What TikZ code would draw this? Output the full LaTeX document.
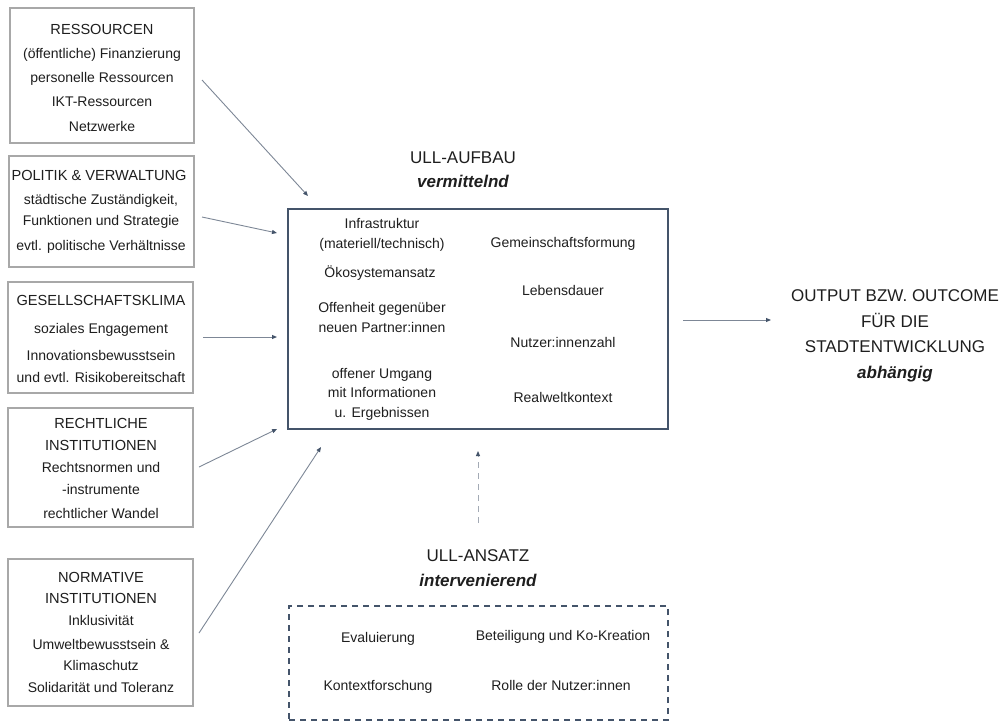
\documentclass[tikz,border=0pt]{standalone}
\usepackage{fontspec}
\setmainfont{Liberation Sans}
\usetikzlibrary{arrows.meta}
\definecolor{ink}{HTML}{1E1E1E}
\definecolor{boxgray}{HTML}{A8A8A8}
\definecolor{slate}{HTML}{44546A}
\definecolor{arrowgray}{HTML}{7D8796}
\definecolor{dashgray}{HTML}{A3AAB5}

\begin{document}
\begin{tikzpicture}[x=1pt,y=-1pt,
  txt/.style={text=ink, font=\fontsize{14}{16}\selectfont, inner sep=0pt, anchor=base, yshift=-5pt},
  boxhead/.style={txt, font=\fontsize{14.6}{16}\selectfont},
  head/.style={text=ink, font=\fontsize{17}{20}\selectfont, inner sep=0pt, anchor=base, yshift=-6pt},
  headit/.style={head, font=\fontsize{17}{20}\selectfont\bfseries\itshape},
  factorbox/.style={draw=boxgray, line width=1.1pt, fill=white, inner sep=0pt},
  mainbox/.style={draw=slate, line width=1.6pt, inner sep=0pt},
  approachbox/.style={draw=slate, line width=1.4pt, dash pattern=on 6pt off 5pt, inner sep=0pt},
  tipshape/.style={-{Triangle[length=5pt,width=4pt,color=slate,fill=slate]}},
  conn/.style={draw=arrowgray, line width=0.9pt, tipshape},
  dashconn/.style={draw=dashgray, line width=0.9pt, dash pattern=on 6pt off 5pt, tipshape}
]
\useasboundingbox (0,0) rectangle (1003,721);

% factor boxes on the left
\node[factorbox, minimum width=184pt, minimum height=135pt] (b1) at (102,75.5) {};
\node[factorbox, minimum width=185pt, minimum height=111pt] (b2) at (101.5,211.5) {};
\node[factorbox, minimum width=185pt, minimum height=111pt] (b3) at (100.5,337.5) {};
\node[factorbox, minimum width=185pt, minimum height=119pt] (b4) at (100.5,467.5) {};
\node[factorbox, minimum width=185pt, minimum height=147pt] (b5) at (100.5,632.5) {};

% RESSOURCEN
\node[boxhead] (r1) at (102,29) {RESSOURCEN};
\node[txt] (r2) at (102,53) {(öffentliche) Finanzierung};
\node[txt] (r3) at (102,77) {personelle Ressourcen};
\node[txt] (r4) at (102,101) {IKT-Ressourcen};
\node[txt] (r5) at (102,126) {Netzwerke};

% POLITIK & VERWALTUNG
\node[boxhead] (p1) at (99,175) {POLITIK \& VERWALTUNG};
\node[txt] (p2) at (101,199) {städtische Zuständigkeit,};
\node[txt] (p3) at (101,220) {Funktionen und Strategie};
\node[txt] (p4) at (101,245) {evtl. politische Verhältnisse};

% GESELLSCHAFTSKLIMA
\node[boxhead] (g1) at (101,300) {GESELLSCHAFTSKLIMA};
\node[txt] (g2) at (101,328) {soziales Engagement};
\node[txt] (g3) at (101,355) {Innovationsbewusstsein};
\node[txt] (g4) at (101,377) {und evtl. Risikobereitschaft};

% RECHTLICHE INSTITUTIONEN
\node[boxhead] (l1) at (101,423) {RECHTLICHE};
\node[boxhead] (l2) at (101,445) {INSTITUTIONEN};
\node[txt] (l3) at (101,467) {Rechtsnormen und};
\node[txt] (l4) at (101,489) {-instrumente};
\node[txt] (l5) at (101,513) {rechtlicher Wandel};

% NORMATIVE INSTITUTIONEN
\node[boxhead] (n1) at (101,577) {NORMATIVE};
\node[boxhead] (n2) at (101,598) {INSTITUTIONEN};
\node[txt] (n3) at (101,620) {Inklusivität};
\node[txt] (n4) at (101,644) {Umweltbewusstsein \&};
\node[txt] (n5) at (101,665) {Klimaschutz};
\node[txt] (n6) at (101,687) {Solidarität und Toleranz};

% ULL-Aufbau
\node[head] (aufbau) at (463,157) {ULL-AUFBAU};
\node[headit] (verm) at (463,181) {vermittelnd};
\node[mainbox, minimum width=380pt, minimum height=220pt] (main) at (478,319) {};

\node[txt] (m1) at (382,223) {Infrastruktur};
\node[txt] (m2) at (382,243) {(materiell/technisch)};
\node[txt] (m3) at (380,272) {Ökosystemansatz};
\node[txt] (m4) at (382,307) {Offenheit gegenüber};
\node[txt] (m5) at (382,327) {neuen Partner:innen};
\node[txt] (m6) at (382,373) {offener Umgang};
\node[txt] (m7) at (382,392) {mit Informationen};
\node[txt] (m8) at (382,412) {u. Ergebnissen};
\node[txt] (m9) at (563,242) {Gemeinschaftsformung};
\node[txt] (m10) at (563,290) {Lebensdauer};
\node[txt] (m11) at (563,342) {Nutzer:innenzahl};
\node[txt] (m12) at (563,397) {Realweltkontext};

% ULL-Ansatz
\node[head] (ansatz) at (478,555) {ULL-ANSATZ};
\node[headit] (interv) at (478,580) {intervenierend};
\node[approachbox, minimum width=379pt, minimum height=114pt] (appr) at (478.5,663) {};
\node[txt] (e1) at (378,637) {Evaluierung};
\node[txt] (e2) at (563,635) {Beteiligung und Ko-Kreation};
\node[txt] (e3) at (378,685) {Kontextforschung};
\node[txt] (e4) at (561,685) {Rolle der Nutzer:innen};

% Output
\node[head] (o1) at (895,295) {OUTPUT BZW. OUTCOME};
\node[head] (o2) at (895,321) {FÜR DIE};
\node[head] (o3) at (895,346) {STADTENTWICKLUNG};
\node[headit] (o4) at (895,372) {abhängig};

% connector end points
\coordinate (s1) at (202,80);   \coordinate (t1) at (308,196);
\coordinate (s2) at (202,217);  \coordinate (t2) at (277,233);
\coordinate (s3) at (203,337);  \coordinate (t3) at (277,337);
\coordinate (s4) at (199,467);  \coordinate (t4) at (277,429);
\coordinate (s5) at (199,633);  \coordinate (t5) at (321,447);
\coordinate (s6) at (683,320);  \coordinate (t6) at (771,320);
\coordinate (s7) at (478,523);  \coordinate (t7) at (478,451);

\draw[conn] (s1) -- (t1);
\draw[conn] (s2) -- (t2);
\draw[conn] (s3) -- (t3);
\draw[conn] (s4) -- (t4);
\draw[conn] (s5) -- (t5);
\draw[conn] (s6) -- (t6);
\draw[dashconn] (s7) -- (t7);
\end{tikzpicture}
\end{document}
